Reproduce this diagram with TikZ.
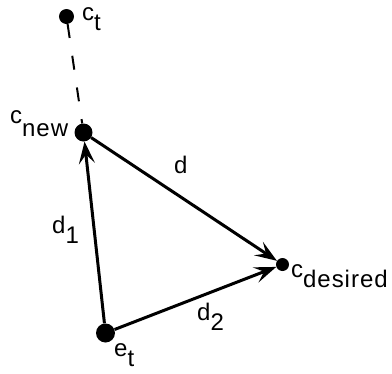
\documentclass[tikz,border=0pt]{standalone}
\usepackage{fontspec}
\setmainfont{Liberation Sans}
\usetikzlibrary{arrows.meta}
\newcommand\lowsub[2][10bp]{\raisebox{-#1}{\addfontfeature{LetterSpace=4}#2}}
\begin{document}
\begin{tikzpicture}[x=1bp,y=-1bp,
  dot/.style={circle,fill=black,inner sep=0pt,minimum size=#1},
  lbl/.style={anchor=base west,inner sep=0pt,font=\fontsize{24bp}{28bp}\selectfont},
  vec/.style={line width=3bp,-{Stealth[length=22bp,width=16bp,inset=9bp]}},
  link/.style={line width=2bp,dash pattern=on 14bp off 18bp}]
\useasboundingbox (0,0) rectangle (392,374);
\node[dot=15bp] (ct) at (66.5,16.5) {};
\node[dot=18bp] (cnew) at (83.5,132.5) {};
\node[dot=13bp] (cdes) at (282.5,264.5) {};
\node[dot=19bp] (et) at (105.5,333) {};
\draw[link] (ct) -- (cnew);
\draw[vec] (et) -- (cnew);
\draw[vec] (cnew) -- (cdes);
\draw[vec] (et) -- (cdes);
\node[lbl] (lct) at (82,20) {c\lowsub{t}};
\node[lbl] (lcnew) at (10,123) {c\lowsub[13bp]{new}};
\node[lbl] (ld) at (174,173) {d};
\node[lbl] (ld1) at (52,233) {d\lowsub{1}};
\node[lbl] (ld2) at (197,320) {d\lowsub{2}};
\node[lbl] (lcdes) at (291,277) {c\lowsub{desired}};
\node[lbl] (let) at (114,356) {e\lowsub{t}};
\end{tikzpicture}
\end{document}
